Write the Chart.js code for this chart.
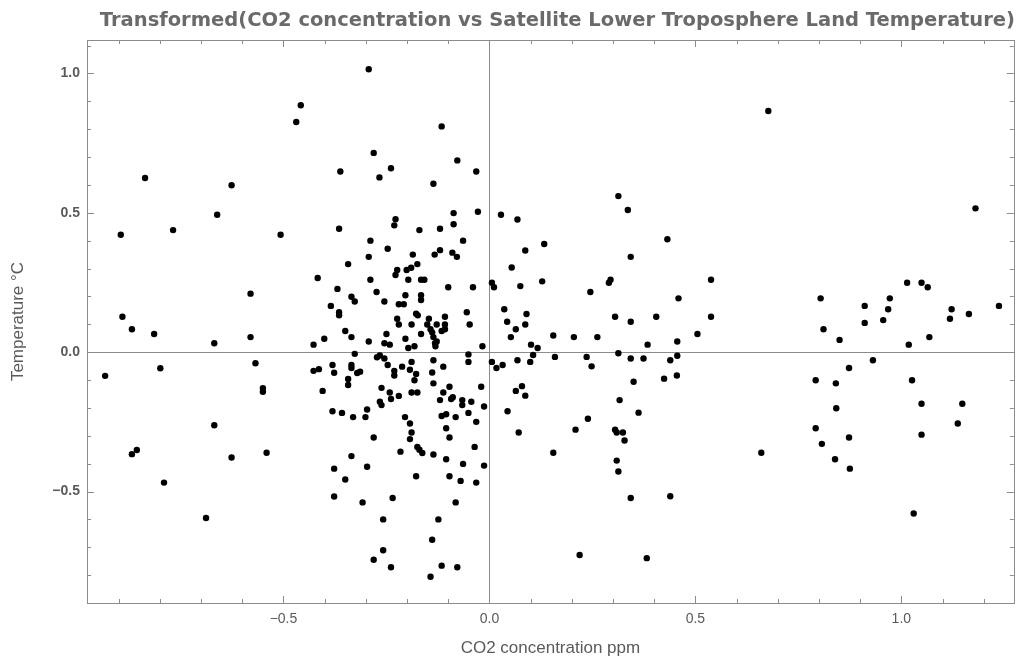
<!DOCTYPE html>
<html>
<head>
<meta charset="utf-8">
<script src="https://cdn.jsdelivr.net/npm/chart.js@4.4.1/dist/chart.umd.min.js"></script>
<style>
  html, body { margin: 0; padding: 0; background: #ffffff; }
  #wrap { width: 1017px; height: 660px; }
</style>
</head>
<body>
<div id="wrap"><canvas id="c" width="1017" height="660"></canvas></div>
<script>
// ---- data ----
const chartTitle = 'Transformed(CO2 concentration vs Satellite Lower Troposphere Land Temperature)';
const xAxisTitle = 'CO2 concentration ppm';
const yAxisTitle = 'Temperature \u00B0C';

const xTicks = [-0.5, 0.0, 0.5, 1.0];
const yTicks = [-0.5, 0.0, 0.5, 1.0];
const xRange = [-0.977, 1.273];
const yRange = [-0.9, 1.12];

const co2 = [
  -0.458,-0.469,-0.836,-0.626,-0.661,-0.895,-0.768,-0.507,-0.417,-0.580,-0.891,
  -0.868,-0.814,-0.668,-0.580,-0.427,-0.933,-0.799,-0.568,-0.550,-0.550,-0.427,-0.414,-0.668,-0.868,-0.856,-0.626,-0.541,-0.790,-0.688,
  -0.293,-0.116,-0.281,-0.078,-0.362,-0.239,-0.267,-0.032,-0.136,-0.087,-0.028,-0.228,-0.231,-0.365,-0.170,-0.120,-0.087,-0.289,-0.064,-0.247,
  -0.293,-0.186,-0.120,-0.133,-0.090,-0.079,-0.343,-0.175,-0.190,-0.201,-0.224,-0.228,-0.289,-0.197,-0.166,-0.158,-0.369,-0.274,-0.100,-0.040,
  0.006,0.011,-0.335,-0.327,-0.255,-0.204,-0.166,-0.166,-0.385,-0.365,-0.365,-0.220,-0.208,-0.178,-0.174,-0.224,-0.147,-0.108,-0.055,
  -0.220,-0.189,-0.151,-0.143,-0.128,-0.108,-0.108,-0.116,-0.048,-0.350,-0.335,-0.401,-0.293,-0.250,-0.255,-0.242,-0.204,-0.197,-0.182,-0.166,
  -0.139,-0.136,-0.132,-0.128,-0.131,-0.017,-0.327,-0.273,-0.266,-0.255,-0.247,-0.189,-0.136,-0.112,-0.051,-0.051,0.006,0.017,-0.381,-0.377,
  -0.335,-0.335,-0.321,-0.314,-0.343,-0.343,-0.405,-0.231,-0.231,-0.212,-0.193,-0.178,-0.182,-0.139,-0.136,-0.262,-0.242,-0.239,-0.220,-0.189,
  -0.175,-0.266,-0.262,-0.112,-0.097,-0.120,-0.093,-0.089,-0.066,-0.066,-0.044,-0.020,-0.013,-0.051,-0.381,-0.358,-0.331,-0.297,-0.301,-0.205,
  -0.193,-0.116,-0.105,-0.082,-0.032,-0.105,-0.189,-0.193,-0.281,-0.097,-0.175,-0.170,-0.163,-0.216,-0.136,-0.036,-0.335,-0.105,-0.064,-0.013,
  -0.377,-0.297,-0.350,-0.178,-0.097,-0.070,-0.032,-0.377,-0.308,-0.235,-0.082,-0.258,-0.124,-0.139,-0.258,-0.281,-0.239,-0.116,-0.078,-0.143,
  0.028,0.068,0.313,0.336,0.432,0.133,0.087,0.343,0.054,0.075,0.128,0.245,0.290,0.294,0.459,0.036,0.090,0.305,0.405,
  0.043,0.343,0.064,0.087,0.052,0.155,0.205,0.262,0.101,0.117,0.106,0.384,0.456,0.313,0.032,0.068,0.099,0.159,0.236,0.248,
  0.343,0.374,0.439,0.456,0.455,0.424,0.350,0.064,0.079,0.087,0.044,0.316,0.362,0.239,0.071,0.209,0.305,0.309,0.324,0.328,
  0.155,0.309,0.313,0.343,0.439,0.219,0.382,
  0.677,1.180,0.538,0.804,0.911,0.972,0.968,1.014,1.049,1.064,1.122,1.164,1.237,0.538,1.118,
  0.956,0.911,0.505,0.811,0.850,1.018,1.068,0.931,0.873,0.792,0.841,1.026,0.842,1.049,1.148,1.137,0.792,0.873,0.807,1.049,
  0.839,0.875,0.660,1.030
];
const temperature = [
  0.886,0.826,0.625,0.599,0.493,0.421,0.438,0.421,0.266,0.210,0.127,
  0.082,0.065,0.032,0.054,0.027,-0.085,-0.058,-0.040,-0.129,-0.142,-0.067,-0.061,-0.262,-0.366,-0.351,-0.378,-0.361,-0.468,-0.595,
  1.015,0.810,0.715,0.688,0.648,0.660,0.627,0.648,0.604,0.499,0.504,0.477,0.455,0.443,0.438,0.443,0.459,0.400,0.400,0.371,
  0.342,0.350,0.366,0.350,0.357,0.342,0.316,0.316,0.303,0.295,0.295,0.277,0.260,0.260,0.260,0.260,0.227,0.216,0.233,0.233,
  0.249,0.233,0.199,0.182,0.182,0.204,0.204,0.187,0.166,0.143,0.132,0.172,0.172,0.138,0.132,0.120,0.120,0.127,0.143,
  0.099,0.099,0.099,0.082,0.099,0.099,0.082,0.076,0.099,0.076,0.054,0.048,0.038,0.065,0.032,0.027,0.048,0.015,0.021,0.065,
  0.071,0.054,0.032,0.038,0.021,0.021,-0.006,-0.018,-0.012,-0.023,-0.046,-0.035,-0.029,-0.052,-0.008,-0.035,-0.035,-0.057,-0.046,-0.074,
  -0.046,-0.057,-0.075,-0.070,-0.096,-0.118,-0.139,-0.067,-0.084,-0.052,-0.063,-0.078,-0.101,-0.073,-0.112,-0.128,-0.145,-0.168,-0.157,-0.145,
  -0.145,-0.178,-0.190,-0.145,-0.124,-0.172,-0.168,-0.162,-0.172,-0.190,-0.178,-0.124,-0.195,-0.218,-0.212,-0.218,-0.233,-0.206,-0.233,-0.233,
  -0.256,-0.229,-0.223,-0.233,-0.250,-0.273,-0.288,-0.312,-0.306,-0.306,-0.340,-0.350,-0.362,-0.357,-0.367,-0.340,-0.373,-0.384,-0.401,-0.407,
  -0.418,-0.411,-0.457,-0.445,-0.445,-0.462,-0.468,-0.518,-0.539,-0.523,-0.539,-0.600,-0.600,-0.673,-0.711,-0.745,-0.772,-0.766,-0.772,-0.806,
  0.493,0.476,0.560,0.510,0.405,0.388,0.365,0.342,0.304,0.237,0.254,0.216,0.249,0.260,0.193,0.154,0.137,0.127,0.127,
  0.109,0.109,0.082,0.099,0.054,0.060,0.054,0.054,0.027,0.015,-0.010,0.027,0.038,-0.004,-0.046,-0.029,-0.035,-0.017,-0.017,-0.051,
  -0.023,-0.023,-0.029,-0.013,-0.084,-0.095,-0.106,-0.139,-0.122,-0.156,-0.212,-0.172,-0.217,-0.239,-0.288,-0.278,-0.278,-0.288,-0.288,-0.317,
  -0.361,-0.389,-0.428,-0.523,-0.517,-0.728,-0.739,
  0.865,0.516,0.260,0.193,0.166,0.193,0.154,0.249,0.249,0.233,0.154,0.137,0.166,0.127,0.120,
  0.115,0.105,0.065,0.082,0.044,0.027,0.054,-0.029,-0.057,-0.101,-0.112,-0.101,-0.201,-0.185,-0.185,-0.256,-0.273,-0.306,-0.329,-0.296,
  -0.384,-0.418,-0.361,-0.579
];

// ---- chart ----
const points = co2.map((x, i) => ({ x: x, y: temperature[i] }));
const FONT = '"Liberation Sans", Arial, sans-serif';
const TITLE_FONT = '"DejaVu Sans", "Liberation Sans", sans-serif';
const FRAME = '#8c8c8c';
const TEXT = '#5a5a5a';

function fmt(v) {
  const s = Math.abs(v).toFixed(1);
  return v < -1e-9 ? '\u2212' + s : s;
}

const framePlugin = {
  id: 'mmaFrame',
  beforeDatasetsDraw(chart) {
    const { ctx, chartArea: a, scales } = chart;
    const xs = scales.x, ys = scales.y;
    ctx.save();
    ctx.strokeStyle = FRAME;
    ctx.lineWidth = 1;
    // axes through origin
    const x0 = Math.round(xs.getPixelForValue(0)) + 0.5;
    const y0 = Math.round(ys.getPixelForValue(0)) + 0.5;
    ctx.beginPath();
    ctx.moveTo(x0, a.top); ctx.lineTo(x0, a.bottom);
    ctx.moveTo(a.left, y0); ctx.lineTo(a.right, y0);
    ctx.stroke();
    // frame
    ctx.strokeRect(Math.round(a.left) + 0.5, Math.round(a.top) + 0.5,
                   Math.round(a.right - a.left), Math.round(a.bottom - a.top));
    // tick marks inside the frame (major every 0.5, minor every 0.1)
    ctx.beginPath();
    for (let k = Math.ceil(xRange[0] * 10); k <= Math.floor(xRange[1] * 10); k++) {
      const v = k / 10;
      const len = (k % 5 === 0) ? 7 : 4;
      const px = Math.round(xs.getPixelForValue(v)) + 0.5;
      ctx.moveTo(px, a.bottom); ctx.lineTo(px, a.bottom - len);
      ctx.moveTo(px, a.top); ctx.lineTo(px, a.top + len);
    }
    for (let k = Math.ceil(yRange[0] * 10) + 1; k <= Math.floor(yRange[1] * 10); k++) {
      const v = k / 10;
      const len = (k % 5 === 0) ? 7 : 4;
      const py = Math.round(ys.getPixelForValue(v)) + 0.5;
      ctx.moveTo(a.left, py); ctx.lineTo(a.left + len, py);
      ctx.moveTo(a.right, py); ctx.lineTo(a.right - len, py);
    }
    ctx.stroke();
    ctx.restore();
  }
};

new Chart(document.getElementById('c'), {
  type: 'scatter',
  data: {
    datasets: [{
      data: points,
      backgroundColor: '#000000',
      borderWidth: 0,
      pointRadius: 3.2,
      pointHoverRadius: 3.2
    }]
  },
  options: {
    responsive: false,
    animation: false,
    devicePixelRatio: 1,
    layout: { padding: { left: 0, right: 2, top: 0, bottom: 0 } },
    plugins: {
      legend: { display: false },
      tooltip: { enabled: false },
      title: {
        display: true,
        text: chartTitle,
        align: 'end',
        color: '#6a6a6a',
        font: { family: TITLE_FONT, size: 19.5, weight: 'bold' },
        padding: { top: 9, bottom: 7.6 }
      }
    },
    scales: {
      x: {
        type: 'linear',
        min: xRange[0],
        max: xRange[1],
        afterBuildTicks(scale) { scale.ticks = xTicks.map(v => ({ value: v })); },
        afterFit(scale) { scale.height = 57; },
        grid: { display: false, drawTicks: false },
        border: { display: false },
        ticks: {
          autoSkip: false,
          maxRotation: 0,
          padding: 8,
          color: TEXT,
          font: { family: FONT, size: 14 },
          callback: v => fmt(v)
        },
        title: {
          display: true,
          text: xAxisTitle,
          color: TEXT,
          font: { family: FONT, size: 17 },
          padding: { top: 0, bottom: 1 }
        }
      },
      y: {
        type: 'linear',
        min: yRange[0],
        max: yRange[1],
        afterBuildTicks(scale) { scale.ticks = yTicks.map(v => ({ value: v })); },
        afterFit(scale) { scale.width = 87; },
        grid: { display: false, drawTicks: false },
        border: { display: false },
        ticks: {
          autoSkip: false,
          padding: 7,
          color: TEXT,
          font: { family: FONT, size: 14, weight: 'bold' },
          callback: v => fmt(v)
        },
        title: {
          display: true,
          text: yAxisTitle,
          color: TEXT,
          font: { family: FONT, size: 17 },
          padding: { top: 8, bottom: 0 }
        }
      }
    }
  },
  plugins: [framePlugin]
});
</script>
</body>
</html>
